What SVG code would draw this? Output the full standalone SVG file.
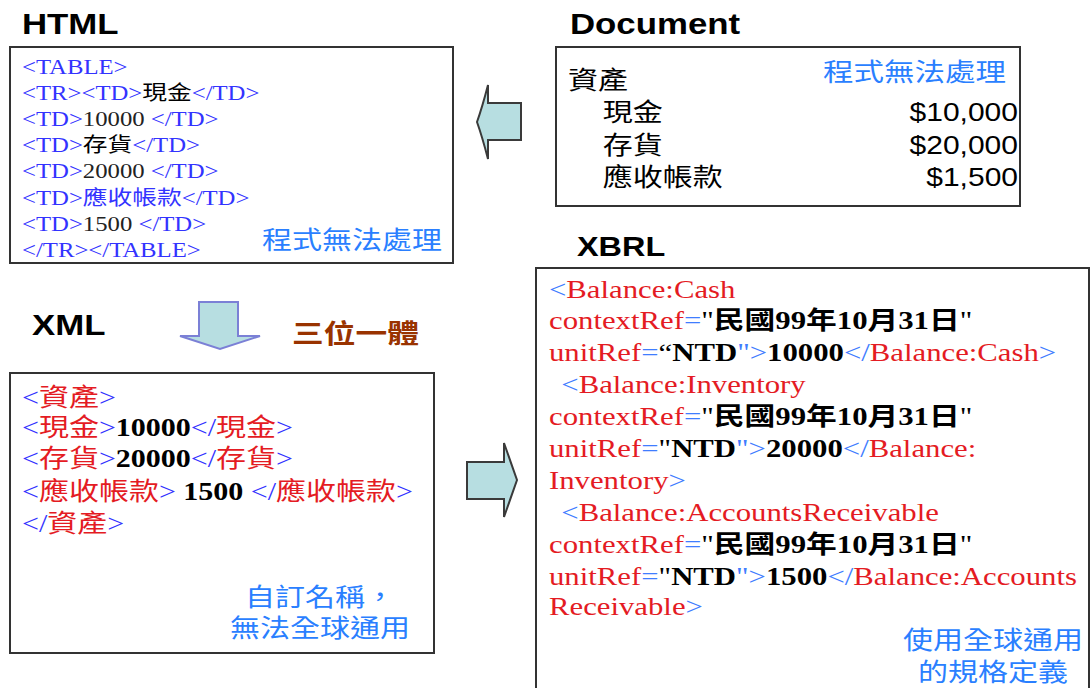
<svg xmlns="http://www.w3.org/2000/svg" width="1091" height="688" viewBox="0 0 1091 688">
<style>
.box{fill:#fff;stroke:#333;stroke-width:2}
.title{font-family:"Liberation Sans",sans-serif;font-weight:bold;font-size:29px;fill:#000}
.serif{font-family:"Liberation Serif","Noto Sans CJK TC",serif}
.sans{font-family:"Liberation Sans","Noto Sans CJK TC",sans-serif}
.cjk{font-family:"Noto Sans CJK TC",sans-serif}
.h{font-size:20.6px}
.x{font-size:25px}
.tag{fill:#3333ff}
.tag2{fill:#3f7dff}
.red{fill:#e41b23}
.blk{fill:#000}
.val{fill:#222}
.b{font-weight:bold}
.note{font-family:"Noto Sans CJK TC",sans-serif;font-size:25px;fill:#2a7fff}
.arrow{fill:#b7dee1;stroke:#3a3a3a;stroke-width:2;stroke-linejoin:miter}
.arrowb{fill:#b7dee1;stroke:#7b80d6;stroke-width:2}
</style>

<g id="node-html">
  <text class="title" transform="translate(22,34) scale(1.2,1)">HTML</text>
  <rect class="box" x="10" y="47" width="443" height="216"/>
  <g class="serif h" transform="translate(22,0) scale(1.2,1)">
    <text y="74"><tspan class="tag">&lt;TABLE&gt;</tspan></text>
    <text y="100"><tspan class="tag">&lt;TR&gt;&lt;TD&gt;</tspan><tspan class="blk">現金</tspan><tspan class="tag">&lt;/TD&gt;</tspan></text>
    <text y="126"><tspan class="tag">&lt;TD&gt;</tspan><tspan class="val">10000 </tspan><tspan class="tag">&lt;/TD&gt;</tspan></text>
    <text y="152"><tspan class="tag">&lt;TD&gt;</tspan><tspan class="blk">存貨</tspan><tspan class="tag">&lt;/TD&gt;</tspan></text>
    <text y="178"><tspan class="tag">&lt;TD&gt;</tspan><tspan class="val">20000 </tspan><tspan class="tag">&lt;/TD&gt;</tspan></text>
    <text y="205"><tspan class="tag">&lt;TD&gt;應收帳款&lt;/TD&gt;</tspan></text>
    <text y="231"><tspan class="tag">&lt;TD&gt;</tspan><tspan class="val">1500 </tspan><tspan class="tag">&lt;/TD&gt;</tspan></text>
    <text y="257"><tspan class="tag">&lt;/TR&gt;&lt;/TABLE&gt;</tspan></text>
  </g>
  <text class="note" transform="translate(442,249) scale(1.2,1)" text-anchor="end">程式無法處理</text>
</g>

<g id="node-document">
  <text class="title" transform="translate(570,34) scale(1.2,1)">Document</text>
  <rect class="box" x="556" y="47" width="464" height="159"/>
  <g class="cjk x blk" transform="translate(568,0) scale(1.2,1)">
    <text y="89">資產</text>
    <text x="29" y="121">現金</text>
    <text x="29" y="154">存貨</text>
    <text x="29" y="186">應收帳款</text>
  </g>
  <text class="note" transform="translate(1006,81) scale(1.22,1)" text-anchor="end">程式無法處理</text>
  <g class="sans x blk" transform="translate(1018,0) scale(1.2,1)" text-anchor="end">
    <text y="121">$10,000</text>
    <text y="154">$20,000</text>
    <text y="186">$1,500</text>
  </g>
</g>

<g id="node-xml">
  <text class="title" transform="translate(32,335) scale(1.2,1)">XML</text>
  <rect class="box" x="10" y="373" width="424" height="280"/>
  <g class="serif x" transform="translate(22,0) scale(1.2,1)">
    <text y="406"><tspan class="tag">&lt;</tspan><tspan class="red">資產</tspan><tspan class="tag">&gt;</tspan></text>
    <text y="436"><tspan class="tag">&lt;</tspan><tspan class="red">現金</tspan><tspan class="tag">&gt;</tspan><tspan class="blk b">10000</tspan><tspan class="tag">&lt;/</tspan><tspan class="red">現金</tspan><tspan class="tag">&gt;</tspan></text>
    <text y="467"><tspan class="tag">&lt;</tspan><tspan class="red">存貨</tspan><tspan class="tag">&gt;</tspan><tspan class="blk b">20000</tspan><tspan class="tag">&lt;/</tspan><tspan class="red">存貨</tspan><tspan class="tag">&gt;</tspan></text>
    <text y="500"><tspan class="tag">&lt;</tspan><tspan class="red">應收帳款</tspan><tspan class="tag">&gt;</tspan><tspan class="blk b"> 1500 </tspan><tspan class="tag">&lt;/</tspan><tspan class="red">應收帳款</tspan><tspan class="tag">&gt;</tspan></text>
    <text y="532"><tspan class="tag">&lt;/</tspan><tspan class="red">資產</tspan><tspan class="tag">&gt;</tspan></text>
  </g>
  <text class="note" transform="translate(320,606) scale(1.2,1)" text-anchor="middle">自訂名稱，</text>
  <text class="note" transform="translate(320,637) scale(1.2,1)" text-anchor="middle">無法全球通用</text>
</g>

<g id="label-sanwei">
  <text class="cjk b" font-size="26" fill="#993300" transform="translate(292,343) scale(1.22,1)">三位一體</text>
</g>

<g id="node-xbrl">
  <text class="title" style="font-size:27px" transform="translate(577,256) scale(1.2,1)">XBRL</text>
  <rect class="box" x="536" y="268" width="553" height="430"/>
  <g class="serif x" transform="translate(549,0) scale(1.23,1)">
    <text y="298"><tspan class="tag2">&lt;</tspan><tspan class="red">Balance:Cash</tspan></text>
    <text y="329"><tspan class="red">contextRef</tspan><tspan class="tag2">=</tspan><tspan class="blk">"</tspan><tspan class="blk b">民國99年10月31日</tspan><tspan class="blk">"</tspan></text>
    <text y="361"><tspan class="red">unitRef</tspan><tspan class="tag2">=</tspan><tspan class="blk">“</tspan><tspan class="blk b">NTD</tspan><tspan class="tag2">"&gt;</tspan><tspan class="blk b">10000</tspan><tspan class="tag2">&lt;/</tspan><tspan class="red">Balance:Cash</tspan><tspan class="tag2">&gt;</tspan></text>
    <text x="10" y="393"><tspan class="tag2">&lt;</tspan><tspan class="red">Balance:Inventory</tspan></text>
    <text y="425"><tspan class="red">contextRef</tspan><tspan class="tag2">=</tspan><tspan class="blk">"</tspan><tspan class="blk b">民國99年10月31日</tspan><tspan class="blk">"</tspan></text>
    <text y="457"><tspan class="red">unitRef</tspan><tspan class="tag2">=</tspan><tspan class="blk">"</tspan><tspan class="blk b">NTD</tspan><tspan class="tag2">"&gt;</tspan><tspan class="blk b">20000</tspan><tspan class="tag2">&lt;/</tspan><tspan class="red">Balance:</tspan></text>
    <text y="489"><tspan class="red">Inventory</tspan><tspan class="tag2">&gt;</tspan></text>
    <text x="10" y="521"><tspan class="tag2">&lt;</tspan><tspan class="red">Balance:AccountsReceivable</tspan></text>
    <text y="553"><tspan class="red">contextRef</tspan><tspan class="tag2">=</tspan><tspan class="blk">"</tspan><tspan class="blk b">民國99年10月31日</tspan><tspan class="blk">"</tspan></text>
    <text y="585"><tspan class="red">unitRef</tspan><tspan class="tag2">=</tspan><tspan class="blk">"</tspan><tspan class="blk b">NTD</tspan><tspan class="tag2">"&gt;</tspan><tspan class="blk b">1500</tspan><tspan class="tag2">&lt;/</tspan><tspan class="red">Balance:Accounts</tspan></text>
    <text y="615"><tspan class="red">Receivable</tspan><tspan class="tag2">&gt;</tspan></text>
  </g>
  <text class="note" transform="translate(993,649) scale(1.2,1)" text-anchor="middle">使用全球通用</text>
  <text class="note" transform="translate(993,681) scale(1.2,1)" text-anchor="middle">的規格定義</text>
</g>

<g id="connectors">
  <path id="arrow-doc-html" class="arrow" d="M521,103 L488,103 L488,85 Q482,108 477,122 Q482,136 488,159 L488,140 L521,140 Z"/>
  <path id="arrow-html-xml" class="arrowb" d="M199,302 L238,302 L238,336 L260,336 L220,349 L180,336 L199,336 Z"/>
  <path id="arrow-xml-xbrl" class="arrow" d="M467,462 L504,462 L504,443 L517,480 L504,517 L504,499 L467,499 Z"/>
</g>
</svg>
